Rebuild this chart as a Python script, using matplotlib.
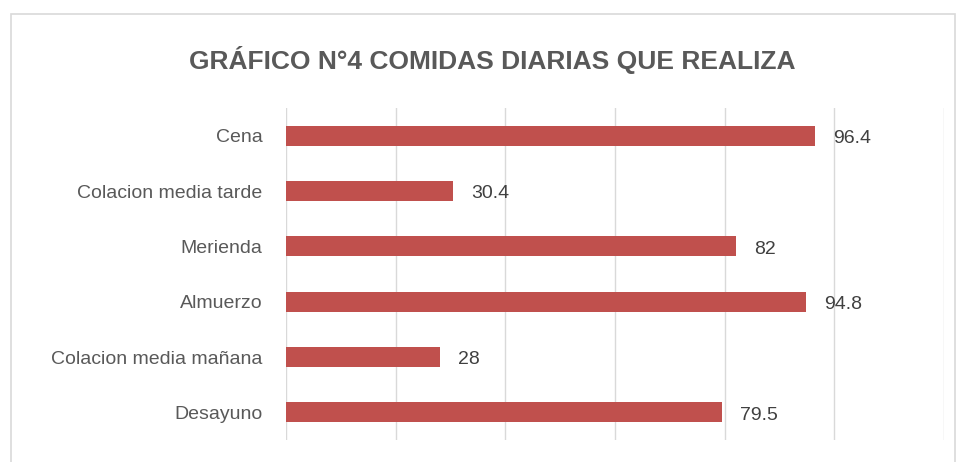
import matplotlib
matplotlib.use('Agg')
import matplotlib.pyplot as plt
from matplotlib.patches import Rectangle
import numpy as np

# datos (de abajo hacia arriba)
categorias = ['Desayuno', 'Colacion media mañana', 'Almuerzo', 'Merienda',
              'Colacion media tarde', 'Cena']
valores = [79.5, 28, 94.8, 82, 30.4, 96.4]
etiquetas = ['79.5', '28', '94.8', '82', '30.4', '96.4']

plt.rcParams['font.family'] = ['Liberation Sans', 'DejaVu Sans']

fig = plt.figure(figsize=(9.59, 4.62), dpi=100)
ax = fig.add_axes([286/959, 22/462, (944-286)/959, (440-108)/462])

# borde del area del grafico
fig.patches.append(Rectangle((11/959, -0.05), (955-11)/959, (462-14)/462 + 0.05,
                             transform=fig.transFigure, fill=False,
                             edgecolor='#d9d9d9', linewidth=1.2))

y = np.arange(len(categorias))
ax.barh(y, valores, height=0.36, color='#c0504d', zorder=3)
for yi, v, t in zip(y, valores, etiquetas):
    ax.annotate(t, (v, yi), xytext=(13, -2), textcoords='offset points',
                ha='left', va='center', fontsize=14, color='#404040')

ax.set_xlim(0, 120)
ax.set_ylim(-0.5, 5.5)
ax.set_xticks(np.arange(0, 121, 20))
ax.xaxis.grid(True, color='#d9d9d9', linewidth=1)
ax.tick_params(axis='x', length=0, labelbottom=False)
ax.tick_params(axis='y', length=0, pad=17, labelsize=14, labelcolor='#595959')
ax.set_yticks(y)
ax.set_yticklabels(categorias)
for s in ax.spines.values():
    s.set_visible(False)

fig.text(492/959, 1 - 60/462, 'GRÁFICO N°4 COMIDAS DIARIAS QUE REALIZA',
         ha='center', va='center', fontsize=19, fontweight='bold', color='#595959')

plt.savefig('out.png', dpi=100)
